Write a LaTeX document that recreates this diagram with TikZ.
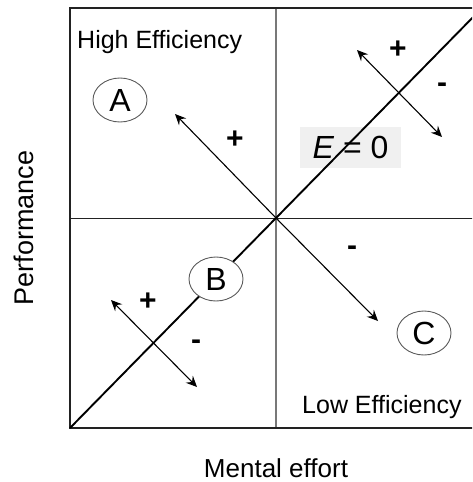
\documentclass[tikz,border=0pt]{standalone}
\usepackage{fontspec}
\setmainfont{Liberation Sans}
\usepackage{xcolor}
\usepackage{tikz}
\usetikzlibrary{shapes.geometric, arrows.meta, positioning}
\definecolor{EffFrame}{RGB}{34, 34, 34}
\definecolor{EffGrid}{RGB}{120, 120, 120}
\definecolor{EffOval}{RGB}{90, 90, 90}
\definecolor{EffShade}{RGB}{240, 240, 240}

\tikzset{
  effframe/.style={draw=EffFrame, line width=1.4pt},
  effgrid/.style={draw=EffGrid, line width=1.3pt},
  effdiag/.style={draw=black, line width=1.9pt},
  effarrow/.style={draw=black, line width=1.1pt,
    -{Stealth[length=11pt, width=10pt, inset=4pt]}},
  effboth/.style={draw=black, line width=1.1pt,
    {Stealth[length=11pt, width=10pt, inset=4pt]}-{Stealth[length=11pt, width=10pt, inset=4pt]}},
  effoval/.style={ellipse, draw=EffOval, fill=white, line width=0.9pt,
    minimum width=54pt, minimum height=44pt, inner sep=0pt,
    font=\fontsize{32}{34}\selectfont},
  effsign/.style={inner sep=0pt, font=\fontsize{30}{32}\selectfont\bfseries},
  efftext/.style={inner sep=0pt, font=\fontsize{25}{28}\selectfont}
}

\begin{document}
\begin{tikzpicture}[x=1pt, y=-1pt]
    \useasboundingbox (0,0) rectangle (472,482);
    \clip (0,0) rectangle (472,482);

    % frame and quadrants
    \coordinate (O) at (276,218);
    \coordinate (SW) at (70,428);
    \coordinate (NE) at (482,8);
    \draw[effgrid] (276,8) -- (276,428);
    \draw[effframe, line width=1pt] (70,218) -- (482,218);
    \draw[effframe] (70,8) rectangle (482,428);

    % iso-efficiency line
    \node[
      fill=EffShade, minimum width=101pt, minimum height=41pt, inner sep=0pt,
      font=\fontsize{32}{34}\selectfont
    ] (ezero) at (350.5,147.5) {\textit{E} = 0};
    \draw[effdiag] (SW) -- (NE);

    % main directions
    \coordinate (hiTip) at (175,114);
    \coordinate (loTip) at (378,321);
    \draw[effarrow] (O) -- (hiTip);
    \draw[effarrow] (O) -- (loTip);
    \node[effsign] (hiPlus) at (235,140) {+};
    \node[effsign] (loMinus) at (352,251) {-};

    % small crosses
    \coordinate (upA) at (357,50);
    \coordinate (upB) at (442,137);
    \draw[effboth] (upA) -- (upB);
    \node[effsign] (upPlus) at (398,50) {+};
    \node[effsign] (upMinus) at (442,88) {-};
    \coordinate (dnA) at (111,300);
    \coordinate (dnB) at (197,387);
    \draw[effboth] (dnA) -- (dnB);
    \node[effsign] (dnPlus) at (148,302) {+};
    \node[effsign] (dnMinus) at (196,345) {-};

    % conditions
    \node[effoval] (condA) at (120,100) {A};
    \node[effoval] (condB) at (216,279) {B};
    \node[effoval] (condC) at (424,333) {C};

    % labels
    \node[efftext, anchor=base west] (hiEff) at (77,48) {High Efficiency};
    \node[efftext, anchor=base west] (loEff) at (302,413) {Low Efficiency};
    \node[inner sep=0pt, anchor=base, font=\fontsize{26}{30}\selectfont]
      (xlabel) at (276,477) {Mental effort};
    \node[inner sep=0pt, anchor=base, rotate=90, font=\fontsize{27}{30}\selectfont]
      (ylabel) at (33,228) {Performance};
  \end{tikzpicture}
\end{document}
